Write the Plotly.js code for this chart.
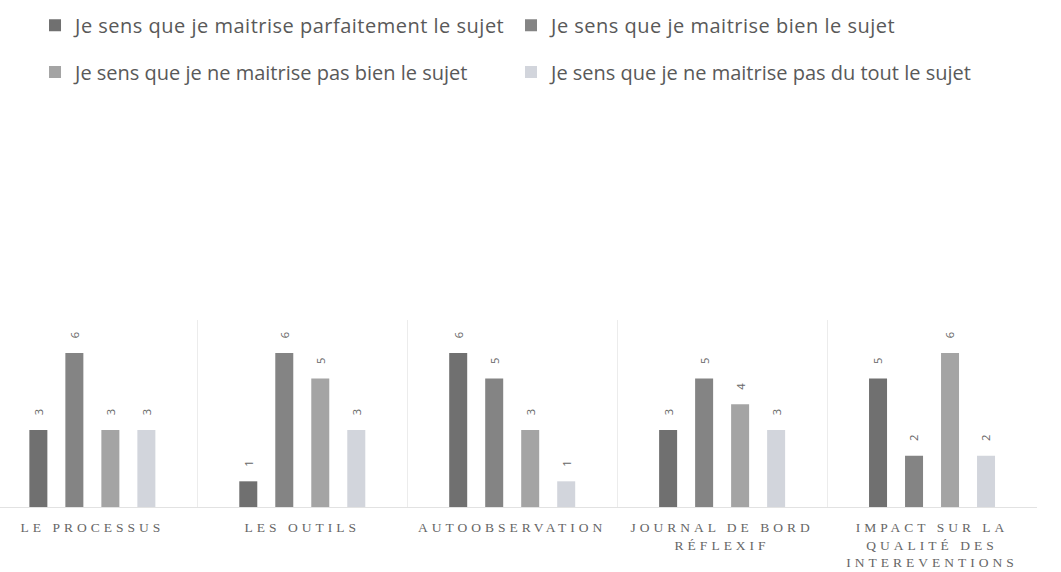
<!DOCTYPE html>
<html><head><meta charset="utf-8">
<script src="https://cdn.plot.ly/plotly-3.0.1.min.js"></script>
<style>
html,body{margin:0;padding:0;background:#fff;}
#chart .xtick text{letter-spacing:4px;}
#chart .legend text.legendtext{letter-spacing:0.5px;}
</style>
</head><body>
<div id="chart" style="width:1061px;height:572px;"></div>
<script>
const categories = ["LE PROCESSUS", "LES OUTILS", "AUTOOBSERVATION", "JOURNAL DE BORD<br>RÉFLEXIF", "IMPACT SUR LA<br>QUALITÉ DES<br>INTEREVENTIONS"];
const seriesNames = [
  "Je sens que je maitrise parfaitement le sujet",
  "Je sens que je maitrise bien le sujet",
  "Je sens que je ne maitrise pas bien le sujet",
  "Je sens que je ne maitrise pas du tout le sujet"
];
const parfaitement = [3, 1, 6, 3, 5];
const bien = [6, 6, 5, 5, 2];
const pasBien = [3, 5, 3, 4, 6];
const pasDuTout = [3, 3, 1, 3, 2];
const colors = ["#707070", "#848484", "#a4a4a4", "#d2d5dc"];
const legendOf = ["legend", "legend", "legend2", "legend2"];

const values = [parfaitement, bien, pasBien, pasDuTout];
const traces = values.map((v, i) => ({
  type: "bar",
  name: seriesNames[i],
  x: categories,
  y: v,
  marker: {color: colors[i]},
  text: v.map(String),
  texttemplate: "\u00a0\u00a0\u00a0\u00a0%{text}",
  textposition: "outside",
  textangle: -90,
  cliponaxis: false,
  textfont: {family: "Open Sans, sans-serif", size: 14, color: "#666"},
  legend: legendOf[i],
  hoverinfo: "none"
}));

const legendBase = {
  orientation: "h",
  xref: "container", yref: "container",
  xanchor: "left", yanchor: "middle",
  entrywidth: 431,
  font: {family: "Open Sans, sans-serif", size: 20, color: "#595959"},
  bgcolor: "rgba(0,0,0,0)",
  itemclick: false
};

const layout = {
  width: 1061, height: 572,
  margin: {l: 0, r: 24, t: 320, b: 65},
  paper_bgcolor: "#fff", plot_bgcolor: "#fff",
  barmode: "group",
  bargap: 0.314,
  bargroupgap: 0.5,
  showlegend: true,
  legend: Object.assign({}, legendBase, {x: 0.033, y: 0.956}),
  legend2: Object.assign({}, legendBase, {x: 0.033, y: 0.874}),
  xaxis: {
    type: "category",
    range: [-0.44, 4.5],
    tickson: "boundaries",
    showgrid: true,
    gridcolor: "#ececec",
    showline: true,
    linecolor: "#e2e2e2",
    ticks: "",
    tickangle: 0,
    ticklabelstandoff: 8,
    tickfont: {family: "Liberation Serif, serif", size: 13.5, color: "#666"},
    fixedrange: true
  },
  yaxis: {
    range: [0, 7.28],
    showgrid: false,
    zeroline: false,
    showticklabels: false,
    fixedrange: true
  }
};

Plotly.newPlot("chart", traces, layout, {displayModeBar: false, staticPlot: true});
</script>
</body></html>
